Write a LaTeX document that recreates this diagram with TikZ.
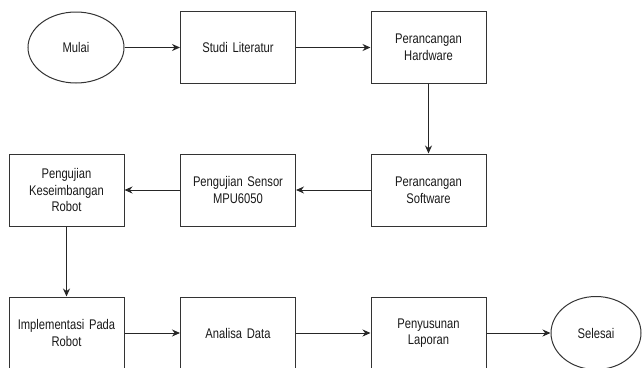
\documentclass[tikz,border=0pt]{standalone}
\usepackage{fontspec}
\setmainfont{Liberation Sans}[FakeStretch=0.8]
\usetikzlibrary{arrows.meta,shapes.geometric}
\begin{document}
\begin{tikzpicture}[x=1pt,y=-1pt,
  every node/.style={font=\fontsize{14}{16.5}\selectfont, text=black!90, align=center},
  box/.style={draw=black!80, line width=1pt, rectangle, minimum width=115pt, minimum height=72pt, inner sep=2pt, text width=110pt},
  oval/.style={draw=black!80, line width=1pt, ellipse, minimum width=96pt, minimum height=71pt, inner sep=0pt},
  conn/.style={draw=black!85, line width=1pt, -{Stealth[length=8pt,width=7pt]}}]
\useasboundingbox (0,0) rectangle (642,367);
\node[oval] (mulai) at (76,47.5) {Mulai};
\node[box] (studi) at (238,47.5) {Studi Literatur};
\node[box] (hw) at (428.5,47.5) {Perancangan\\Hardware};
\node[box] (sw) at (428.5,190) {Perancangan\\Software};
\node[box] (sensor) at (238,190) {Pengujian Sensor\\MPU6050};
\node[box] (kes) at (66.5,190) {Pengujian\\Keseimbangan\\Robot};
\node[box] (impl) at (66.5,333) {Implementasi Pada\\Robot};
\node[box] (analisa) at (238,333) {Analisa Data};
\node[box] (lap) at (428.5,333) {Penyusunan\\Laporan};
\node[oval, minimum width=90pt, minimum height=73pt] (selesai) at (596,333) {Selesai};
\draw[conn] (mulai) -- (studi);
\draw[conn] (studi) -- (hw);
\draw[conn] (hw) -- (sw);
\draw[conn] (sw) -- (sensor);
\draw[conn] (sensor) -- (kes);
\draw[conn] (kes) -- (impl);
\draw[conn] (impl) -- (analisa);
\draw[conn] (analisa) -- (lap);
\draw[conn] (lap) -- (selesai);
\end{tikzpicture}
\end{document}
